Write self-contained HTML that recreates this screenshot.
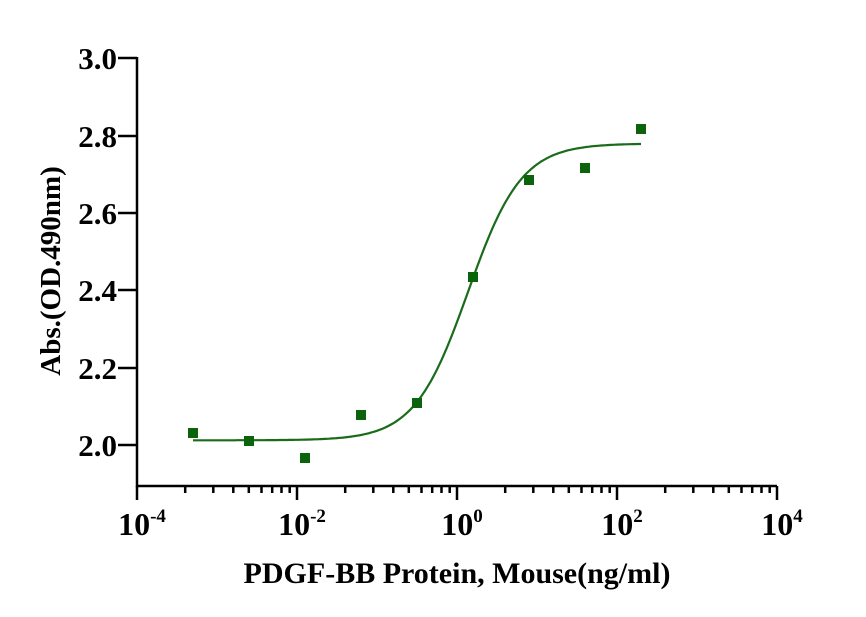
<!DOCTYPE html>
<html><head><style>body{margin:0;background:#fff}svg{display:block}</style></head><body>
<svg width="866" height="617" xmlns="http://www.w3.org/2000/svg" font-family="Liberation Serif, serif" font-weight="bold">
<g stroke="#000" stroke-width="2.5" fill="none">
<path d="M137,57 V486 H777"/>
<path d="M118,58 H137 M118,136 H137 M118,213 H137 M118,290 H137 M118,368 H137 M118,445 H137"/>
<path d="M137,486v14 M297,486v14 M457,486v14 M617,486v14 M777,486v14"/>
<path id="mt" d=""/>
</g>
<g font-size="31" text-anchor="end">
<text x="117" y="69">3.0</text><text x="117" y="147">2.8</text><text x="117" y="224">2.6</text>
<text x="117" y="301">2.4</text><text x="117" y="379">2.2</text><text x="117" y="456">2.0</text>
</g>
<g font-size="32" text-anchor="middle">
<text x="142" y="535">10<tspan font-size="19" dy="-13">-4</tspan></text>
<text x="302" y="535">10<tspan font-size="19" dy="-13">-2</tspan></text>
<text x="462" y="535">10<tspan font-size="19" dy="-13">0</tspan></text>
<text x="622" y="535">10<tspan font-size="19" dy="-13">2</tspan></text>
<text x="782" y="535">10<tspan font-size="19" dy="-13">4</tspan></text>
</g>
<text x="457" y="583" font-size="30" text-anchor="middle">PDGF-BB Protein, Mouse(ng/ml)</text>
<text transform="translate(60,271) rotate(-90)" font-size="29" text-anchor="middle">Abs.(OD.490nm)</text>
<path id="c" fill="none" stroke="#1a6b1a" stroke-width="2.2" d=""/>
<g fill="#0b640b">
<rect x="188" y="428" width="10" height="10"/><rect x="244" y="436" width="10" height="10"/>
<rect x="300" y="453" width="10" height="10"/><rect x="356" y="410" width="10" height="10"/>
<rect x="412" y="398" width="10" height="10"/><rect x="468" y="272" width="10" height="10"/>
<rect x="524" y="175" width="10" height="10"/><rect x="580" y="163" width="10" height="10"/>
<rect x="636" y="124" width="10" height="10"/>
</g>
<script>
var m='';
for(var d=0;d<4;d++){for(var k=2;k<10;k++){var x=137+160*d+160*Math.log10(k);m+='M'+x.toFixed(1)+',486v7 ';}}
document.getElementById('mt').setAttribute('d',m);
var p='',b=440.3,t=143.5,c=468,h=1.3;
for(var x=193;x<=641;x+=2){var lx=(x-c)/80;var y=b+(t-b)/(1+Math.pow(10,-h*lx));p+=(x==193?'M':'L')+x+','+y.toFixed(1);}
document.getElementById('c').setAttribute('d',p);
</script>
</svg>
</body></html>
